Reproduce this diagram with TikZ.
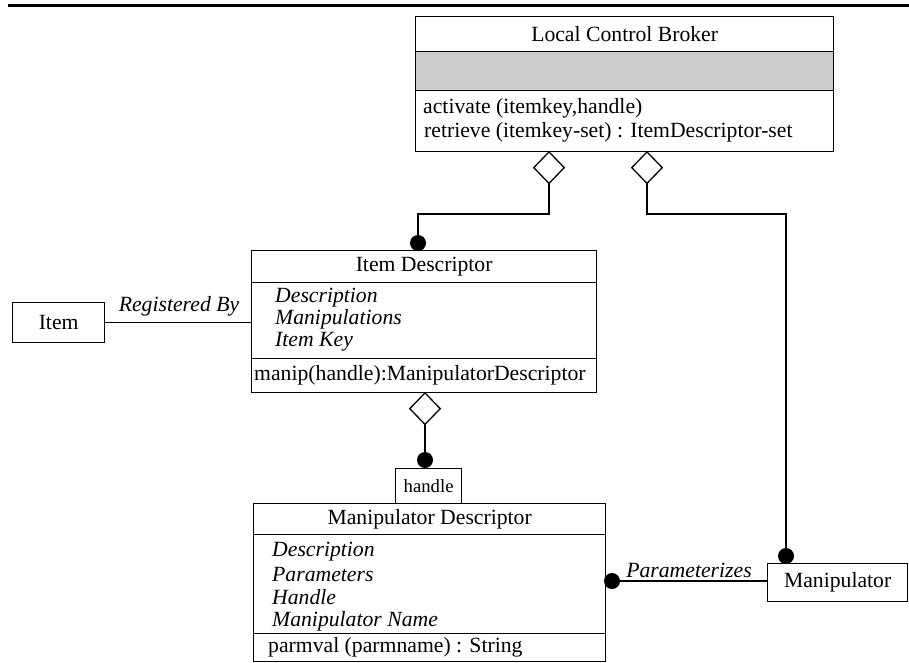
\documentclass[tikz,border=0pt]{standalone}
\usepackage{fontspec}
\setmainfont{Liberation Serif}
\usetikzlibrary{shapes.geometric}
\begin{document}
\begin{tikzpicture}[x=1pt,y=-1pt,
  comp/.style={draw, line width=1.3pt, inner sep=0pt, anchor=north west},
  txt/.style={inner sep=0pt, font=\fontsize{21.7}{24}\selectfont},
  ltxt/.style={txt, anchor=west},
  itxt/.style={ltxt, font=\fontsize{21.7}{24}\selectfont\itshape},
  agg/.style={diamond, draw, fill=white, line width=1.3pt, inner sep=0pt,
              minimum width=31pt, minimum height=32pt},
  dot/.style={circle, fill=black, inner sep=0pt, minimum size=16pt},
  link/.style={line width=1.3pt}]
\useasboundingbox (0,0) rectangle (909,663);

% page rule
\draw[line width=3pt] (8,6) -- (909,6);

% Local Control Broker
\node[comp, minimum width=418pt, minimum height=35pt] (lcbT) at (415,16) {};
\node[comp, fill=black!20, minimum width=418pt, minimum height=39pt] (lcbA) at (415,51) {};
\node[comp, minimum width=418pt, minimum height=61pt] (lcbM) at (415,90) {};
\node[txt] (lcbName) at (lcbT.center) {Local Control Broker};
\node[ltxt] (lcbM1) at (423,108) {activate (itemkey,handle)};
\node[ltxt] (lcbM2) at (424,132) {retrieve (itemkey-set) : ItemDescriptor-set};

% Item Descriptor
\node[comp, minimum width=345pt, minimum height=32pt] (idT) at (251,250) {};
\node[comp, minimum width=345pt, minimum height=76pt] (idA) at (251,282) {};
\node[comp, minimum width=345pt, minimum height=34pt] (idM) at (251,358) {};
\node[txt] (idName) at (idT.center) {Item Descriptor};
\node[itxt] (idA1) at (275,298) {Description};
\node[itxt] (idA2) at (275,319) {Manipulations};
\node[itxt] (idA3) at (275,342) {Item Key};
\node[ltxt] (idM1) at (254,375) {manip(handle):ManipulatorDescriptor};

% Item
\node[comp, minimum width=92pt, minimum height=40pt] (item) at (12,302) {};
\node[txt] (itemName) at (item.center) {Item};

% handle qualifier
\node[comp, minimum width=66pt, minimum height=35pt] (hdl) at (395,468) {};
\node[txt, font=\fontsize{18.7}{22}\selectfont] (hdlName) at (hdl.center) {handle};

% Manipulator Descriptor
\node[comp, minimum width=352pt, minimum height=31pt] (mdT) at (253,503) {};
\node[comp, minimum width=352pt, minimum height=99pt] (mdA) at (253,534) {};
\node[comp, minimum width=352pt, minimum height=28pt] (mdM) at (253,633) {};
\node[txt] (mdName) at (mdT.center) {Manipulator Descriptor};
\node[itxt] (mdA1) at (272,552) {Description};
\node[itxt] (mdA2) at (272,574) {Parameters};
\node[itxt] (mdA3) at (272,597) {Handle};
\node[itxt] (mdA4) at (272,621) {Manipulator Name};
\node[ltxt] (mdM1) at (268,647) {parmval (parmname) : String};

% Manipulator
\node[comp, minimum width=140pt, minimum height=38pt] (man) at (767,563) {};
\node[txt] (manName) at (man.center) {Manipulator};

% aggregation diamonds
\node[agg, anchor=north] (dg1) at (549,151) {};
\node[agg, anchor=north] (dg2) at (647,151) {};
\node[agg, anchor=north] (dg3) at (425,392) {};

% association ends
\node[dot] (dt1) at (418,243) {};
\node[dot] (dt2) at (425,460) {};
\node[dot] (dt3) at (786,556) {};
\node[dot] (dt4) at (612,581) {};

% bend level
\coordinate (lvl) at (0,214);

% connectors
\draw[link] (dg1.south) -- (dg1.south |- lvl) -- (dt1 |- lvl) -- (dt1.center);
\draw[link] (dg2.south) -- (dg2.south |- lvl) -- (dt3 |- lvl) -- (dt3.center);
\draw[link] (dg3.south) -- (dt2.center);
\draw[link] (item.east) -- (item.east -| idA.west);
\draw[link] (dt4.center) -- (dt4 -| man.west);

% association names
\node[txt, font=\fontsize{21.7}{24}\selectfont\itshape, anchor=base] (regBy) at (179,311) {Registered By};
\node[txt, font=\fontsize{21.7}{24}\selectfont\itshape, anchor=base] (param) at (689,577) {Parameterizes};
\end{tikzpicture}
\end{document}
